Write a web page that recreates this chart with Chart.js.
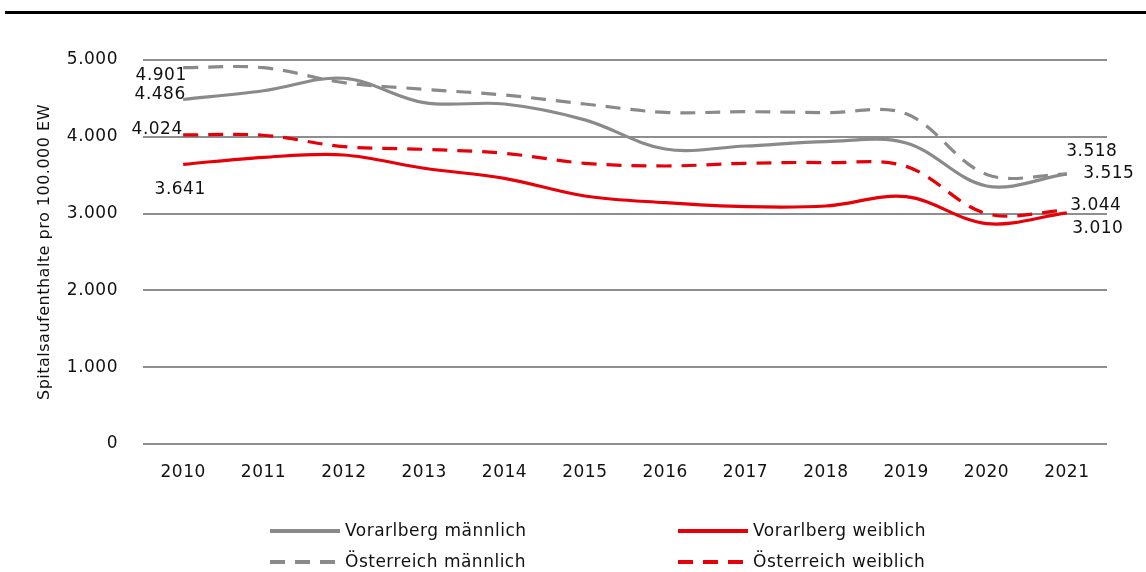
<!DOCTYPE html>
<html>
<head>
<meta charset="utf-8">
<script src="https://cdn.jsdelivr.net/npm/chart.js@4.4.1/dist/chart.umd.min.js"></script>
<style>
  html, body { margin: 0; padding: 0; background: #fff; }
  #wrap { position: relative; width: 1146px; height: 572px; overflow: hidden; }
  #topline { position: absolute; left: 5px; top: 11px; width: 1141px; height: 3px; background: #000; }
  #c { position: absolute; left: 0; top: 0; }
  .lg { position: absolute; font-family: "DejaVu Sans", sans-serif; font-size: 17px; letter-spacing: 0.5px; color: #111; white-space: nowrap; line-height: 20px; }
  .lg svg { position: absolute; }
</style>
</head>
<body>
<div id="wrap">
  <canvas id="c" width="1146" height="572"></canvas>
  <div id="topline"></div>
  <div id="legend"></div>
</div>
<script>
// ---- data ----
const years = ["2010","2011","2012","2013","2014","2015","2016","2017","2018","2019","2020","2021"];
const seriesNames = ["Vorarlberg männlich","Österreich männlich","Vorarlberg weiblich","Österreich weiblich"];
const vorarlbergM = [4486, 4600, 4762, 4444, 4427, 4220, 3841, 3880, 3937, 3920, 3360, 3518];
const oesterreichM = [4901, 4900, 4705, 4619, 4544, 4427, 4318, 4327, 4314, 4300, 3510, 3515];
const vorarlbergW = [3641, 3733, 3763, 3590, 3459, 3229, 3142, 3090, 3099, 3220, 2870, 3010];
const oesterreichW = [4024, 4020, 3872, 3837, 3785, 3655, 3620, 3655, 3663, 3615, 3000, 3044];
const yTicks = [0, 1000, 2000, 3000, 4000, 5000];
const yTitle = "Spitalsaufenthalte pro 100.000 EW";

// ---- styles ----
const GREY = "#8a8a8a";
const RED = "#e60008";
const FONT = "DejaVu Sans";
const DASH = [15, 10];
// label offsets [first point dx, dy, last point dx, dy]
const labelOffsets = [
  [-23, -5, 25, -22],
  [-22, 8, 42, 0],
  [-3, 25, 31, 16],
  [-26, -5, 29, -5]
];

const fmt = v => v.toLocaleString("de-DE");

const datasets = [
  { label: seriesNames[0], data: vorarlbergM, borderColor: GREY, borderDash: [] },
  { label: seriesNames[1], data: oesterreichM, borderColor: GREY, borderDash: DASH },
  { label: seriesNames[2], data: vorarlbergW, borderColor: RED, borderDash: [] },
  { label: seriesNames[3], data: oesterreichW, borderColor: RED, borderDash: DASH }
].map(d => Object.assign(d, {
  borderWidth: 3.2, pointRadius: 0, pointHoverRadius: 0, tension: 0.35, fill: false,
  borderCapStyle: "butt", borderJoinStyle: "round"
}));

const spacing = {
  id: "spacing",
  beforeLayout(chart) { chart.ctx.letterSpacing = "0.5px"; },
  beforeDraw(chart) { chart.ctx.letterSpacing = "0.5px"; }
};

const endLabels = {
  id: "endLabels",
  afterDatasetsDraw(chart) {
    const ctx = chart.ctx;
    ctx.save();
    ctx.letterSpacing = "0.5px";
    ctx.font = "17px '" + FONT + "'";
    ctx.fillStyle = "#111";
    ctx.textAlign = "center";
    ctx.textBaseline = "middle";
    chart.data.datasets.forEach((ds, i) => {
      const meta = chart.getDatasetMeta(i);
      const n = meta.data.length;
      const p0 = meta.data[0], p1 = meta.data[n - 1];
      const o = labelOffsets[i];
      ctx.fillText(fmt(ds.data[0]), p0.x + o[0], p0.y + o[1]);
      ctx.fillText(fmt(ds.data[n - 1]), p1.x + o[2], p1.y + o[3]);
    });
    ctx.restore();
  }
};

new Chart(document.getElementById("c"), {
  type: "line",
  data: { labels: years, datasets },
  options: {
    responsive: false,
    animation: false,
    events: [],
    layout: { padding: { left: 0, right: 39, top: 60, bottom: 0 } },
    plugins: { legend: { display: false }, tooltip: { enabled: false } },
    scales: {
      x: {
        offset: true,
        grid: { display: false, drawTicks: false },
        border: { display: false },
        ticks: { font: { family: FONT, size: 17 }, color: "#111", padding: 18, maxRotation: 0 },
        afterFit: s => { s.height = 128; }
      },
      y: {
        min: 0, max: 5000,
        afterBuildTicks: s => { s.ticks = yTicks.map(v => ({ value: v })); },
        grid: { color: "#8e8e8e", lineWidth: 2, drawTicks: false },
        border: { display: false },
        ticks: { font: { family: FONT, size: 17 }, color: "#111", padding: 25, callback: v => fmt(v) },
        title: { display: true, text: yTitle, font: { family: FONT, size: 16 }, color: "#111", padding: { top: 35, bottom: 0 } },
        afterFit: s => { s.width = 143; }
      }
    }
  },
  plugins: [spacing, endLabels]
});

// ---- HTML legend ----
const legendItems = [
  { name: seriesNames[0], color: GREY, dash: null, lx: 270, ty: 531 },
  { name: seriesNames[2], color: RED, dash: null, lx: 678, ty: 531 },
  { name: seriesNames[1], color: GREY, dash: DASH, lx: 270, ty: 562 },
  { name: seriesNames[3], color: RED, dash: DASH, lx: 678, ty: 562 }
];
const lg = document.getElementById("legend");
legendItems.forEach(it => {
  const svgNS = "http://www.w3.org/2000/svg";
  const svg = document.createElementNS(svgNS, "svg");
  svg.setAttribute("width", "72"); svg.setAttribute("height", "8");
  svg.style.position = "absolute";
  svg.style.left = it.lx + "px"; svg.style.top = (it.ty - 4) + "px";
  const line = document.createElementNS(svgNS, "line");
  line.setAttribute("x1", "0"); line.setAttribute("x2", "70");
  line.setAttribute("y1", "4"); line.setAttribute("y2", "4");
  line.setAttribute("stroke", it.color); line.setAttribute("stroke-width", "4");
  if (it.dash) line.setAttribute("stroke-dasharray", it.dash.join(","));
  svg.appendChild(line);
  lg.appendChild(svg);
  const t = document.createElement("div");
  t.className = "lg";
  t.textContent = it.name;
  t.style.left = (it.lx + 75) + "px";
  t.style.top = (it.ty - 11) + "px";
  lg.appendChild(t);
});
</script>
</body>
</html>
